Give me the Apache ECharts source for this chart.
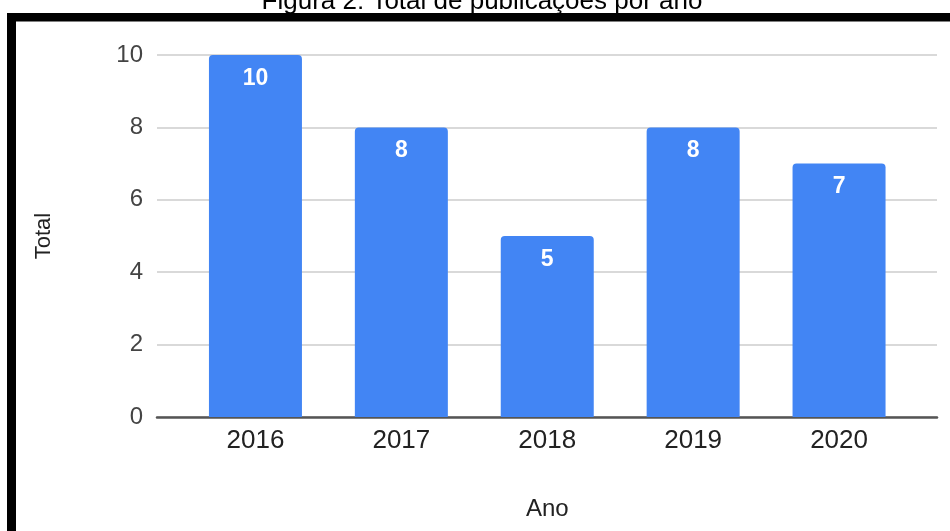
<!DOCTYPE html>
<html>
<head>
<meta charset="utf-8">
<script src="https://cdn.jsdelivr.net/npm/echarts@6/dist/echarts.min.js"></script>
<style>
html,body{margin:0;padding:0;background:#fff;}
#chart{width:950px;height:531px;}
</style>
</head>
<body>
<div id="chart"></div>
<script>
const titleText = "Figura 2: Total de publicações por ano";
const categories = ["2016", "2017", "2018", "2019", "2020"];
const totals = [10, 8, 5, 8, 7];
const yTicks = [0, 2, 4, 6, 8, 10];
const yAxisName = "Total";
const xAxisName = "Ano";

const FONT = '"Liberation Sans", Arial, sans-serif';
const chart = echarts.init(document.getElementById('chart'), null, {renderer: 'canvas'});

const option = {
  backgroundColor: '#ffffff',
  animation: false,
  grid: [
    {left: 157, right: 13, top: 55, bottom: 114},
    {left: 182.5, right: 38, top: 55, bottom: 114}
  ],
  xAxis: [
    {
      gridIndex: 0, type: 'value', min: 0, max: 1,
      axisLine: {show: true, onZero: true, lineStyle: {color: '#555', width: 2.5}},
      axisTick: {show: false}, axisLabel: {show: false}, splitLine: {show: false}
    },
    {
      gridIndex: 1, type: 'category', data: categories,
      axisLine: {show: false}, axisTick: {show: false},
      axisLabel: {fontFamily: FONT, fontSize: 26, color: '#222', margin: 11},
      name: xAxisName, nameLocation: 'middle', nameGap: 80,
      nameTextStyle: {fontFamily: FONT, fontSize: 24, color: '#222'}
    }
  ],
  yAxis: [
    {
      gridIndex: 0, type: 'value', min: yTicks[0], max: yTicks[yTicks.length - 1], interval: 2,
      axisLine: {show: false}, axisTick: {show: false},
      axisLabel: {fontFamily: FONT, fontSize: 24, color: '#444', margin: 14},
      splitLine: {show: true, lineStyle: {color: '#d9d9d9', width: 2}},
      name: yAxisName, nameLocation: 'middle', nameGap: 102, nameRotate: 90,
      nameTextStyle: {fontFamily: FONT, fontSize: 22, color: '#222'}
    },
    {
      gridIndex: 1, type: 'value', min: 0, max: 10, interval: 2, show: false,
      splitLine: {show: false}
    }
  ],
  series: [
    {
      type: 'bar', xAxisIndex: 1, yAxisIndex: 1, data: totals,
      barWidth: 93,
      itemStyle: {color: '#4285f4', borderRadius: [4, 4, 0, 0]},
      label: {
        show: true, position: 'insideTop', distance: 12,
        color: '#ffffff', fontWeight: 'bold', fontSize: 23, fontFamily: FONT
      }
    }
  ],
  graphic: [
    {type: 'rect', left: 7, top: 13, shape: {width: 943, height: 8.5}, style: {fill: '#000'}, z: 100},
    {type: 'rect', left: 7, top: 13, shape: {width: 9, height: 518}, style: {fill: '#000'}, z: 100},
    {type: 'text', x: 482, y: 2, style: {text: titleText, font: '26px "Liberation Sans", Arial, sans-serif', fill: '#000', textAlign: 'center', textVerticalAlign: 'middle'}, z: 99}
  ]
};
chart.setOption(option);
</script>
</body>
</html>
